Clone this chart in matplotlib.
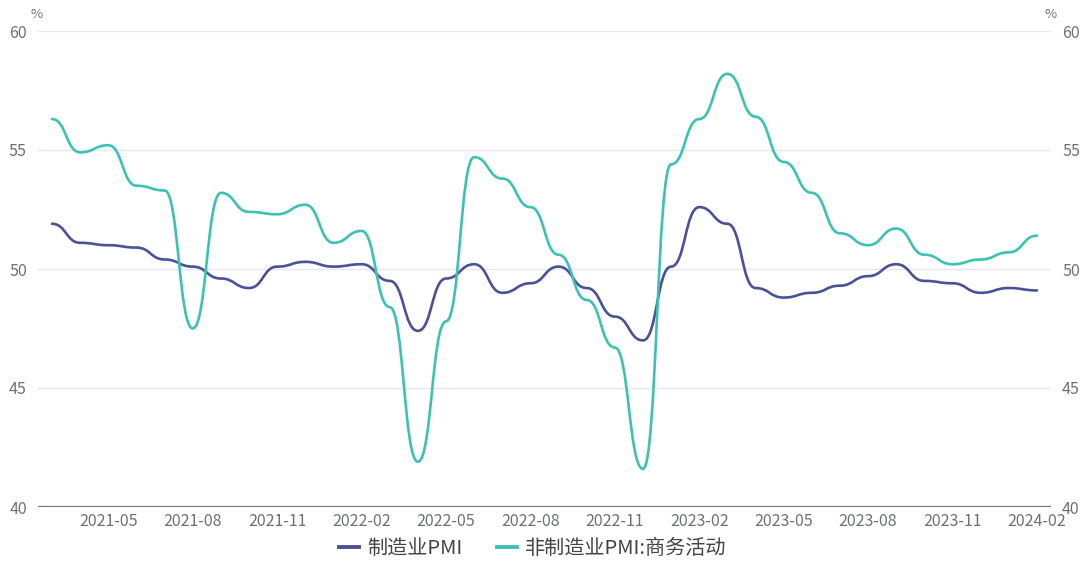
import numpy as np
import matplotlib
matplotlib.use("Agg")
import matplotlib.pyplot as plt
from matplotlib.path import Path
from matplotlib.patches import PathPatch
from matplotlib.lines import Line2D

plt.rcParams['font.family'] = ['Noto Sans CJK SC', 'DejaVu Sans']

months = [f"{y}-{m:02d}" for y in (2021, 2022, 2023, 2024) for m in range(1, 13)]
months = months[2:2 + 36]  # 2021-03 .. 2024-02

manufacturing_pmi = [51.9, 51.1, 51.0, 50.9, 50.4, 50.1, 49.6, 49.2, 50.1, 50.3,
                     50.1, 50.2, 49.5, 47.4, 49.6, 50.2, 49.0, 49.4, 50.1, 49.2,
                     48.0, 47.0, 50.1, 52.6, 51.9, 49.2, 48.8, 49.0, 49.3, 49.7,
                     50.2, 49.5, 49.4, 49.0, 49.2, 49.1]
non_manufacturing_pmi = [56.3, 54.9, 55.2, 53.5, 53.3, 47.5, 53.2, 52.4, 52.3, 52.7,
                         51.1, 51.6, 48.4, 41.9, 47.8, 54.7, 53.8, 52.6, 50.6, 48.7,
                         46.7, 41.6, 54.4, 56.3, 58.2, 56.4, 54.5, 53.2, 51.5, 51.0,
                         51.7, 50.6, 50.2, 50.4, 50.7, 51.4]
series_names = ["制造业PMI", "非制造业PMI:商务活动"]
series_colors = ["#4b5196", "#3cc2b3"]
y_ticks = [40, 45, 50, 55, 60]

W, H = 1081, 561
fig = plt.figure(figsize=(W / 100, H / 100), dpi=100)
L, R, T, B = 38, 1051, 31, 507
ax = fig.add_axes([L / W, (H - B) / H, (R - L) / W, (B - T) / H])
n = len(months)
ax.set_xlim(-0.5, n - 0.5)
ax.set_ylim(40, 60)


def smooth_path(xs, ys, smooth=0.5):
    """Monotone-in-x Bezier: horizontal tangents at every data point."""
    xs = np.asarray(xs, float)
    ys = np.asarray(ys, float)
    verts = [(xs[0], ys[0])]
    codes = [Path.MOVETO]
    for i in range(1, len(xs)):
        dx = xs[i] - xs[i - 1]
        verts += [(xs[i - 1] + dx * smooth, ys[i - 1]),
                  (xs[i] - dx * smooth, ys[i]),
                  (xs[i], ys[i])]
        codes += [Path.CURVE4] * 3
    return Path(verts, codes)


xs = np.arange(n)
for vals, color in zip([manufacturing_pmi, non_manufacturing_pmi], series_colors):
    patch = PathPatch(smooth_path(xs, vals), facecolor="none", edgecolor=color,
                      lw=1.9, capstyle="round", joinstyle="round", zorder=3)
    ax.add_patch(patch)

# grid and axes styling
for v in y_ticks[1:]:
    ax.axhline(v, color="#e6e6f4", lw=1, zorder=1)
ax.axhline(40, color="#6e7197", lw=1.6, zorder=2)
for s in ax.spines.values():
    s.set_visible(False)
ax.set_yticks(y_ticks)
ax.tick_params(axis="y", length=0, pad=8, labelsize=11.5, labelcolor="#6e7079",
               labelleft=True, labelright=True)
tick_idx = list(range(2, n, 3))
ax.set_xticks(tick_idx)
ax.set_xticklabels([months[i] for i in tick_idx])
ax.tick_params(axis="x", length=0, pad=4, labelsize=11.5, labelcolor="#6e7079")

fig.text(37 / W, 1 - 14 / H, "%", ha="center", va="center", fontsize=9.5, color="#6e7079")
fig.text(1051 / W, 1 - 14 / H, "%", ha="center", va="center", fontsize=9.5, color="#6e7079")

handles = [Line2D([0], [0], color=c, lw=2.8) for c in series_colors]
fig.legend(handles, series_names, loc="center", bbox_to_anchor=(533 / W, 1 - 549 / H),
           ncol=2, frameon=False, fontsize=14.5, handlelength=1.0, handletextpad=0.4,
           columnspacing=1.7, labelcolor="#444444", borderpad=0, borderaxespad=0)

fig.savefig("out.png", dpi=100)
